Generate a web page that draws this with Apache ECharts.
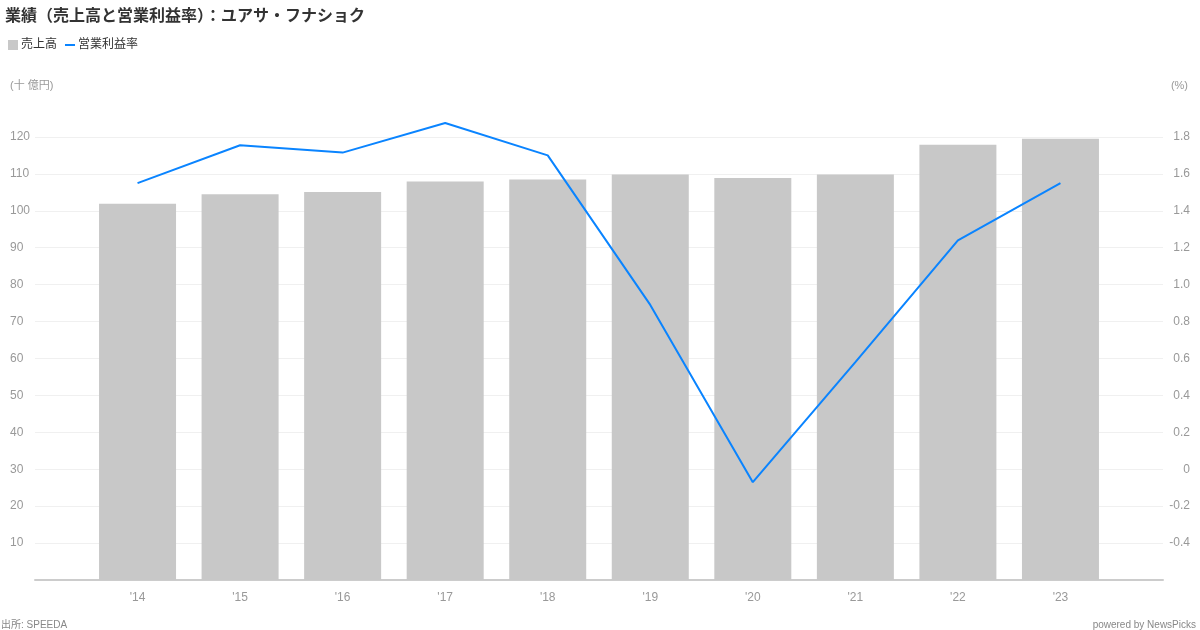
<!DOCTYPE html>
<html><head><meta charset="utf-8">
<script src="https://cdn.jsdelivr.net/npm/echarts@6/dist/echarts.min.js"></script>
<style>html,body{margin:0;padding:0;background:#fff}#c{width:1200px;height:630px}</style>
</head><body><div id="c"></div>
<script>
const categories = ['', "'14", "'15", "'16", "'17", "'18", "'19", "'20", "'21", "'22", "'23", ''];
const sales = [null, 101.9, 104.5, 105.1, 107.9, 108.5, 109.8, 108.9, 109.8, 117.9, 119.5, null];
const margin = [null, 1.55, 1.755, 1.715, 1.875, 1.70, 0.89, -0.07, 0.58, 1.24, 1.55, null];
const FF = '"Liberation Sans", "Noto Sans CJK JP", sans-serif';
const chart = echarts.init(document.getElementById('c'), null, {renderer: 'canvas'});
chart.setOption({
  animation: false,
  textStyle: {fontFamily: FF},
  title: [
    {text: '業績（売上高と営業利益率）：ユアサ・フナショク', left: 5, top: 9, padding: 0,
     textStyle: {fontSize: 16, fontWeight: 'bold', color: '#333', fontFamily: FF}},
    {text: '(十 億円)', left: 10, top: 80, padding: 0, textStyle: {fontSize: 11, fontWeight: 'normal', color: '#999', fontFamily: FF}},
    {text: '(%)', right: 12, top: 80, padding: 0, textStyle: {fontSize: 11, fontWeight: 'normal', color: '#999', fontFamily: FF}},
    {text: '出所: SPEEDA', left: 1, top: 620, padding: 0, textStyle: {fontSize: 10, fontWeight: 'normal', color: '#888', fontFamily: FF}},
    {text: 'powered by NewsPicks', right: 4, top: 620, padding: 0, textStyle: {fontSize: 10, fontWeight: 'normal', color: '#888', fontFamily: FF}}
  ],
  legend: [
    {data: ['売上高'], left: 8, top: 39, padding: 0, icon: 'rect', itemWidth: 10, itemHeight: 10, itemGap: 4,
     textStyle: {fontSize: 12, color: '#333', fontFamily: FF, padding: [0, 0, 0, -2]}},
    {data: ['営業利益率'], left: 65, top: 39, padding: 0, icon: 'rect', itemWidth: 10, itemHeight: 2,
     textStyle: {fontSize: 12, color: '#333', fontFamily: FF, padding: [0, 0, 0, -2]}}
  ],
  grid: {left: 35, right: 37, top: 100, bottom: 50, containLabel: false},
  xAxis: {
    type: 'category', data: categories, boundaryGap: false,
    axisLine: {lineStyle: {color: '#ccc', width: 2}},
    axisTick: {show: false},
    axisLabel: {color: '#999', fontSize: 12, margin: 12, interval: 0, fontFamily: FF},
    splitLine: {show: false}
  },
  yAxis: [
    {type: 'value', min: 0, max: 130, interval: 10,
     axisLine: {show: false}, axisTick: {show: false},
     axisLabel: {color: '#999', fontSize: 12, showMinLabel: false, showMaxLabel: false, align: 'left', margin: 25, fontFamily: FF},
     splitLine: {showMaxLine: false, showMinLine: false, lineStyle: {color: '#f0f0f0', width: 1}}},
    {type: 'value', min: -0.6, max: 2.0, interval: 0.2,
     axisLine: {show: false}, axisTick: {show: false},
     axisLabel: {color: '#999', fontSize: 12, showMinLabel: false, showMaxLabel: false, align: 'right', margin: 27, fontFamily: FF,
       formatter: v => (Math.abs(v) < 1e-9 ? '0' : v.toFixed(1))},
     splitLine: {show: false}}
  ],
  series: [
    {name: '売上高', type: 'bar', data: sales, yAxisIndex: 0, barWidth: 77,
     itemStyle: {color: '#c8c8c8'}},
    {name: '営業利益率', type: 'line', data: margin, yAxisIndex: 1, showSymbol: false, symbol: 'none',
     lineStyle: {color: '#0a84ff', width: 2}, itemStyle: {color: '#0a84ff'}}
  ]
});
</script></body></html>
